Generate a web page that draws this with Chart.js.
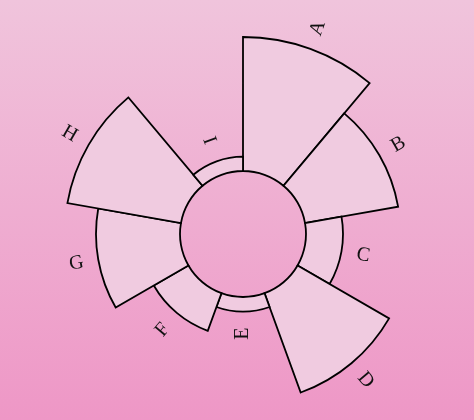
<!DOCTYPE html>
<html><head><meta charset="utf-8">
<script src="https://cdn.jsdelivr.net/npm/chart.js@4"></script>
<style>
html,body{margin:0;padding:0;}
body{width:474px;height:420px;overflow:hidden;background:linear-gradient(to bottom,#f0c4dc 0%,#ee97c6 100%);}
</style></head><body>
<canvas id="c" width="474" height="420"></canvas>
<script>
const categories = ['A', 'B', 'C', 'D', 'E', 'F', 'G', 'H', 'I'];
const values = [134, 94.5, 37, 105.7, 14.7, 40, 84, 115.3, 14.3];
const axisMin = -63;
const axisMax = 123;

const innerHole = {
  id: 'innerHole',
  afterDatasetsUpdate(chart) {
    const scale = chart.scales.r;
    const inner = scale.getDistanceFromCenterForValue(0);
    chart.getDatasetMeta(0).data.forEach(a => { a.innerRadius = inner; });
  }
};

const rotatedLabels = {
  id: 'rotatedLabels',
  afterDatasetsDraw(chart) {
    const ctx = chart.ctx;
    const meta = chart.getDatasetMeta(0);
    ctx.save();
    ctx.font = '20px "Liberation Serif", "Times New Roman", serif';
    ctx.fillStyle = '#111';
    ctx.textAlign = 'center';
    ctx.textBaseline = 'middle';
    meta.data.forEach((arc, i) => {
      const p = arc.getProps(['x', 'y', 'startAngle', 'endAngle', 'outerRadius'], true);
      const mid = (p.startAngle + p.endAngle) / 2;
      const r = p.outerRadius + 22;
      const px = p.x + Math.cos(mid) * r;
      const py = p.y + Math.sin(mid) * r;
      let rot = mid;
      if (Math.cos(mid) < 1e-6) rot += Math.PI;
      ctx.save();
      ctx.translate(px, py);
      ctx.rotate(rot);
      ctx.fillText(chart.data.labels[i], 0, 0);
      ctx.restore();
    });
    ctx.restore();
  }
};

new Chart(document.getElementById('c'), {
  type: 'polarArea',
  data: {
    labels: categories,
    datasets: [{
      data: values,
      backgroundColor: '#f0cbe0',
      borderColor: '#000',
      borderWidth: 1.8,
      borderJoinStyle: 'miter',
      clip: false
    }]
  },
  options: {
    responsive: false,
    animation: false,
    devicePixelRatio: 1,
    layout: { padding: { left: 12, right: 0, top: 48, bottom: 0 } },
    plugins: { legend: { display: false }, tooltip: { enabled: false } },
    scales: {
      r: {
        min: axisMin,
        max: axisMax,
        startAngle: 0,
        ticks: { display: false },
        grid: { display: false },
        angleLines: { display: false },
        pointLabels: { display: false }
      }
    }
  },
  plugins: [innerHole, rotatedLabels]
});
</script>
</body></html>
